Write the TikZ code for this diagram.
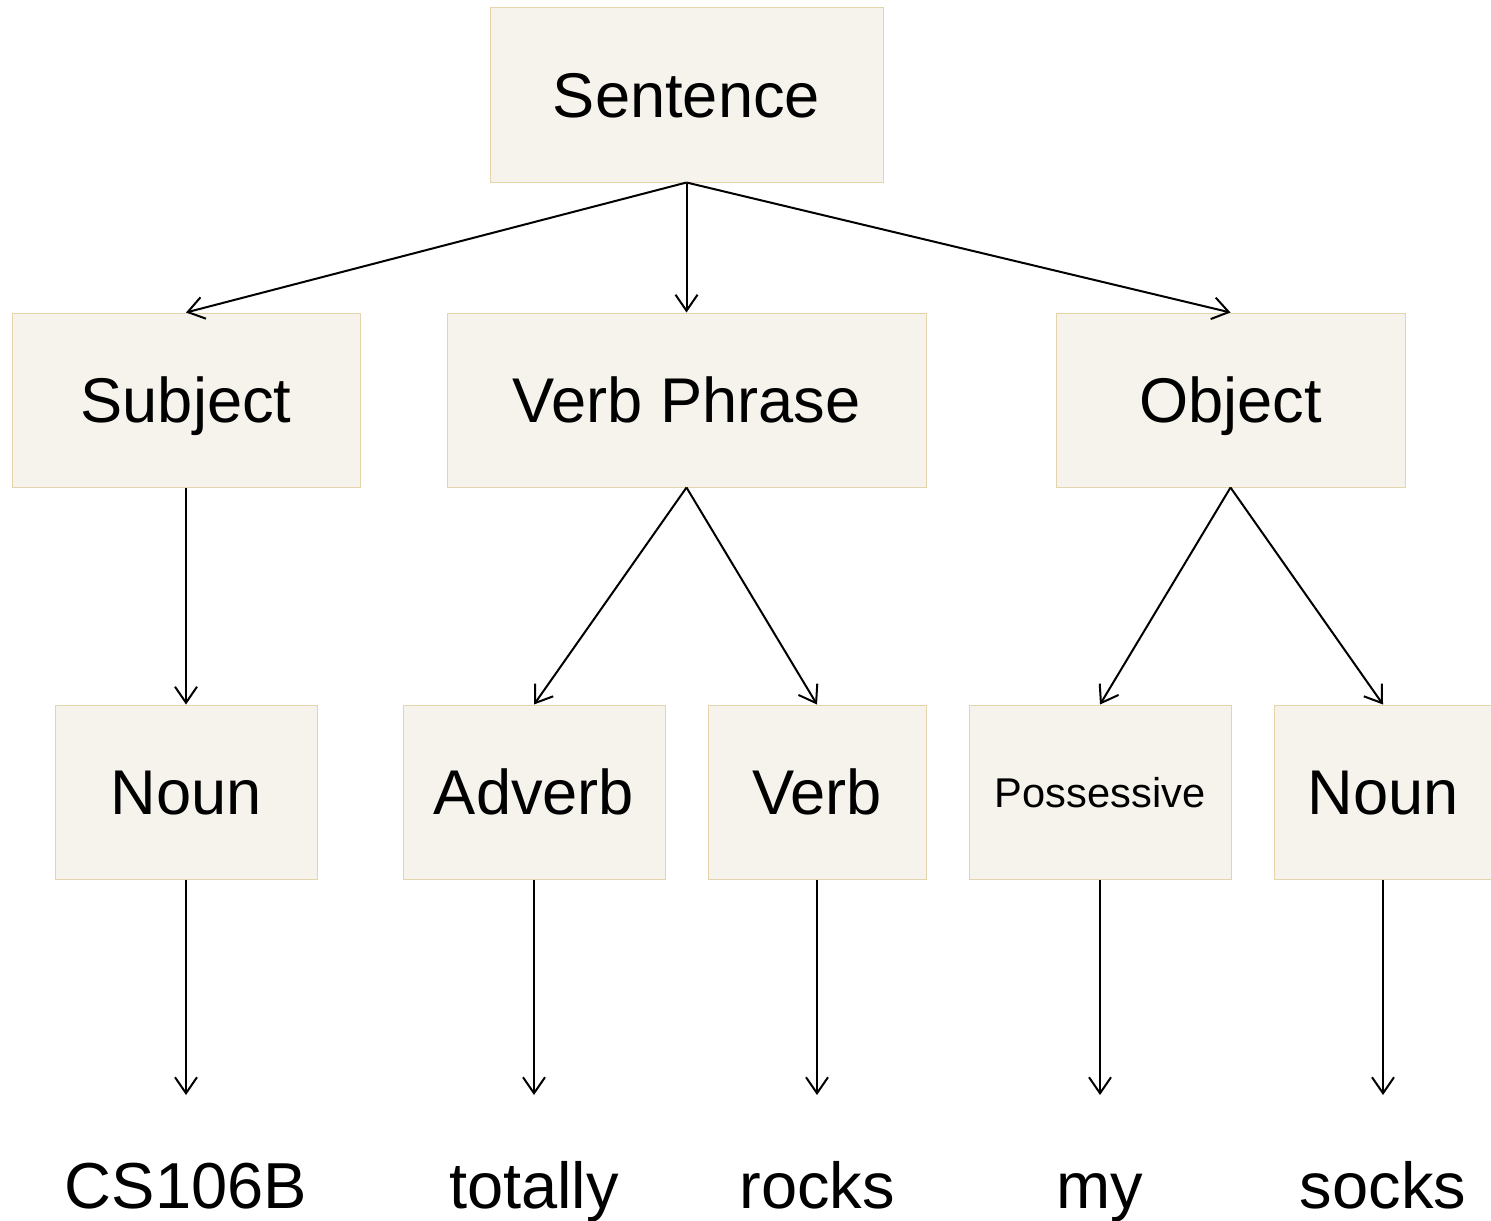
\documentclass[tikz,border=0pt]{standalone}
\usepackage{fontspec}
\setmainfont{Liberation Sans}
\usetikzlibrary{arrows.meta}
\definecolor{boxfill}{HTML}{F5F3EC}
\definecolor{boxline}{HTML}{E3D4AC}
\tikzset{
  parola/.style={draw=boxline,fill=boxfill,line width=0.5pt,inner sep=0pt,
    minimum height=87pt,text height=22.6pt,text depth=0pt,
    font=\fontsize{31.6}{38}\selectfont},
  foglia/.style={anchor=north,inner xsep=0pt,inner ysep=33pt,
    text height=23.5pt,text depth=0pt,font=\fontsize{32.5}{39}\selectfont},
  freccia/.style={-{Straight Barb[length=8pt,width=11pt]},line width=1pt}
}
\begin{document}
\begin{tikzpicture}[x=0.5pt,y=-0.5pt]
        \useasboundingbox (0,0) rectangle (1491,1220);
        % Livello 0
        \node[parola,minimum width=196.5pt] (sent) at (686.5,95) {Sentence};
        % Livello 1
        \node[parola,minimum width=174pt] (subj) at (186,400) {Subject};
        \node[parola,minimum width=239.5pt] (vp) at (686.5,400) {Verb Phrase};
        \node[parola,minimum width=174.5pt] (obj) at (1230.5,400) {Object};
        % Livello 2
        \node[parola,minimum width=131pt] (noun) at (186,792) {Noun};
        \node[parola,minimum width=131pt] (adv) at (534,792) {Adverb};
        \node[parola,minimum width=109pt] (verb) at (817,792) {Verb};
        \node[parola,minimum width=131pt,text height=15.5pt,
          font=\fontsize{20.8}{25}\selectfont] (poss) at (1100,792) {Possessive};
        \node[parola,minimum width=109pt] (noun2) at (1383,792) {Noun};
        % Parole
        \node[foglia] (cs) at (186,1095) {CS106B};
        \node[foglia] (tot) at (534,1095) {totally};
        \node[foglia] (rocks) at (817,1095) {rocks};
        \node[foglia] (my) at (1100,1095) {my};
        \node[foglia] (socks) at (1383,1095) {socks};
        % Frecce
        \draw[freccia] (sent.south) -- (subj.north);
        \draw[freccia] (sent.south) -- (vp.north);
        \draw[freccia] (sent.south) -- (obj.north);
        \draw[freccia] (subj.south) -- (noun.north);
        \draw[freccia] (vp.south) -- (adv.north);
        \draw[freccia] (vp.south) -- (verb.north);
        \draw[freccia] (obj.south) -- (poss.north);
        \draw[freccia] (obj.south) -- (noun2.north);
        \draw[freccia] (noun.south) -- (cs.north);
        \draw[freccia] (adv.south) -- (tot.north);
        \draw[freccia] (verb.south) -- (rocks.north);
        \draw[freccia] (poss.south) -- (my.north);
        \draw[freccia] (noun2.south) -- (socks.north);
    \end{tikzpicture}
\end{document}
